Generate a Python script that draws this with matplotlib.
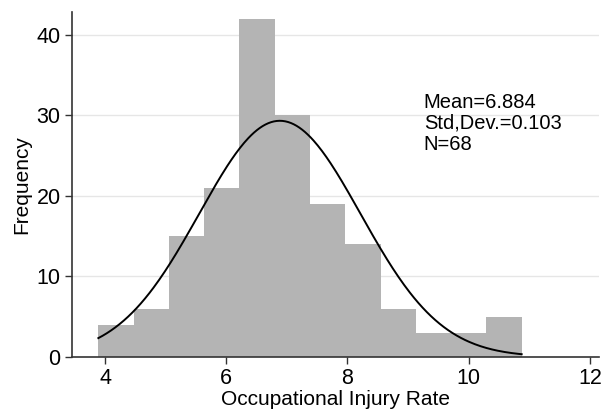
import numpy as np
import matplotlib
matplotlib.use("Agg")
import matplotlib.pyplot as plt

# Data
bin_start = 3.89
bin_width = 0.582
frequencies = [4, 6, 15, 21, 42, 30, 19, 14, 6, 3, 3, 5]
fit_mean = 6.884
fit_sd = 1.33
x_ticks = [4, 6, 8, 10, 12]
y_ticks = [0, 10, 20, 30, 40]
stats_text = ["Mean=6.884", "Std,Dev.=0.103", "N=68"]

plt.rcParams['font.family'] = ['Liberation Sans', 'DejaVu Sans']

fig = plt.figure(figsize=(6.10, 4.13), dpi=100)
ax = fig.add_axes([0.1175, 0.136, 0.8645, 0.836])

edges = bin_start + bin_width * np.arange(len(frequencies) + 1)
ax.bar(edges[:-1], frequencies, width=bin_width, align='edge',
       color='#b4b4b4', edgecolor='none', zorder=2)

n_total = sum(frequencies)
xs = np.linspace(edges[0], edges[-1], 300)
ys = n_total * bin_width / (fit_sd * np.sqrt(2 * np.pi)) * np.exp(-0.5 * ((xs - fit_mean) / fit_sd) ** 2)
ax.plot(xs, ys, color='black', lw=1.4, zorder=3)

ax.set_xlim(3.45, 12.15)
ax.set_ylim(0, 42.9)
ax.set_xticks(x_ticks)
ax.set_yticks(y_ticks)
for t in y_ticks[1:]:
    ax.axhline(t, color='#e6e6e6', lw=1.0, zorder=1)

for s in ['top', 'right']:
    ax.spines[s].set_visible(False)
for s in ['left', 'bottom']:
    ax.spines[s].set_color('#333333')
    ax.spines[s].set_linewidth(1.2)
ax.tick_params(axis='both', direction='out', length=5, width=1.0, color='#333333',
               labelsize=15.5, pad=3)

ax.set_xlabel("Occupational Injury Rate", fontsize=15, labelpad=1)
ax.set_ylabel("Frequency", fontsize=15, labelpad=4)

ax.text(9.26, 29.0, "\n".join(stats_text), fontsize=14.5, va='center', ha='left',
        linespacing=1.15, zorder=4)

fig.savefig("out.png", dpi=100)
